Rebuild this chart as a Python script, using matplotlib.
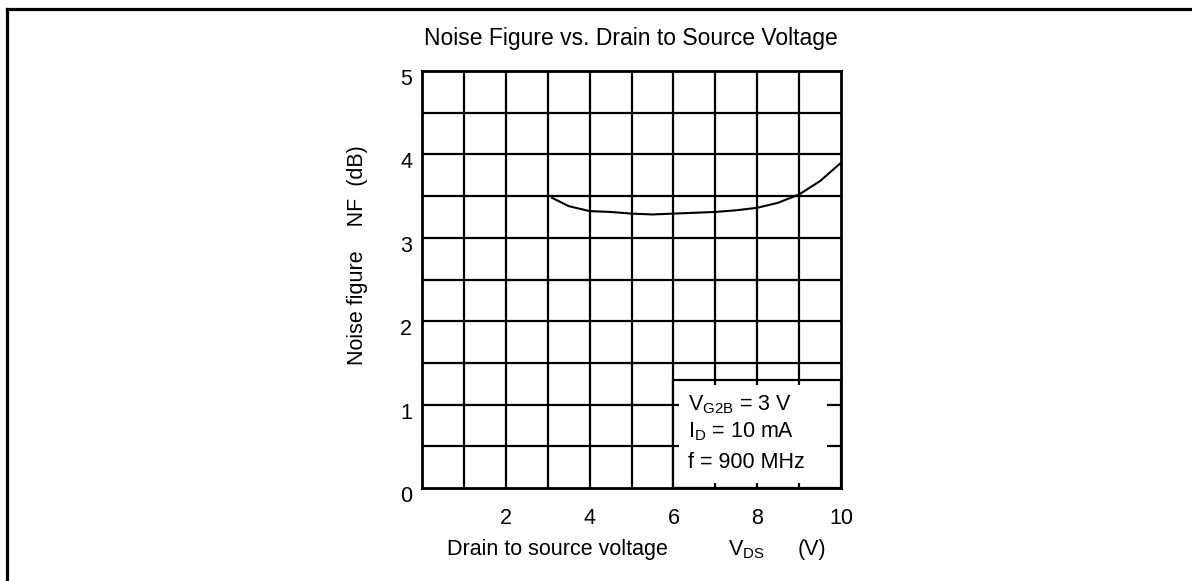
import matplotlib
matplotlib.use("Agg")
import matplotlib.pyplot as plt
from matplotlib.lines import Line2D
from matplotlib.patches import Rectangle
import matplotlib.transforms as mtrans
import numpy as np

plt.rcParams['font.family'] = ['Liberation Sans', 'DejaVu Sans']
plt.rcParams['mathtext.fontset'] = 'custom'
plt.rcParams['mathtext.rm'] = 'Liberation Sans'
plt.rcParams['mathtext.it'] = 'Liberation Sans'

# ---- data ----
vds = [3.1, 3.5, 4.0, 4.5, 5.0, 5.5, 6.0, 6.5, 7.0, 7.5, 8.0, 8.5, 9.0, 9.5, 10.0]
nf = [3.48, 3.38, 3.32, 3.31, 3.29, 3.28, 3.29, 3.30, 3.31, 3.33, 3.36, 3.42, 3.52, 3.68, 3.90]
x_ticks = [2, 4, 6, 8, 10]
y_ticks = [0, 1, 2, 3, 4, 5]
x_grid = list(range(0, 11))
y_grid = [0.5 * i for i in range(11)]
title = "Noise Figure vs. Drain to Source Voltage"
xlabel_parts = ["Drain to source voltage", "V$_{\\mathrm{DS}}$", "(V)"]
ylabel = "Noise figure    NF  (dB)"
cond_lines = ["V$_{\\mathrm{G2B}}$ = 3 V", "I$_{\\mathrm{D}}$ = 10 mA", "f = 900 MHz"]
box_x = (6.0, 10.0)
box_y = (0.0, 1.3)

W, H = 1192, 581
fig = plt.figure(figsize=(W / 100, H / 100), dpi=100)
fig.patch.set_facecolor('white')

def fx(px):
    return px / W

def fy(py):
    return 1 - py / H

ax = fig.add_axes([fx(422), fy(488), fx(841) - fx(422), fy(71) - fy(488)])
ax.set_xlim(0, 10)
ax.set_ylim(0, 5)

lw = 1.6
for x in x_grid[1:-1]:
    ax.axvline(x, color='black', lw=lw, zorder=1)
for y in y_grid[1:-1]:
    ax.axhline(y, color='black', lw=lw, zorder=1)

# conditions box (covers grid)
ax.add_patch(Rectangle((box_x[0], box_y[0]), box_x[1] - box_x[0], box_y[1] - box_y[0],
                       facecolor='white', edgecolor='black', lw=lw, zorder=2))
tx = 0.13
ty = 0.065
for x in x_grid:
    if box_x[0] < x < box_x[1]:
        ax.plot([x, x], [box_y[1], box_y[1] - ty], color='black', lw=lw, zorder=3, solid_capstyle='butt')
        ax.plot([x, x], [box_y[0], box_y[0] + ty], color='black', lw=lw, zorder=3, solid_capstyle='butt')
for y in y_grid:
    if box_y[0] < y < box_y[1]:
        ax.plot([box_x[0], box_x[0] + tx], [y, y], color='black', lw=lw, zorder=3, solid_capstyle='butt')
        ax.plot([box_x[1], box_x[1] - tx * 2.5], [y, y], color='black', lw=lw, zorder=3, solid_capstyle='butt')

ax.plot(vds, nf, color='black', lw=1.5, zorder=4)

for s in ax.spines.values():
    s.set_linewidth(2.0)
    s.set_zorder(5)

fs = 15.5
ax.set_xticks(x_ticks)
ax.set_yticks(y_ticks)
ax.tick_params(length=0, labelsize=fs, colors='black')
ax.tick_params(axis='x', pad=13)
ax.tick_params(axis='y', pad=7)
off = mtrans.ScaledTranslation(0, -6 / 100, fig.dpi_scale_trans)
for lab in ax.get_yticklabels():
    lab.set_transform(lab.get_transform() + off)
offx = mtrans.ScaledTranslation(0, -2 / 100, fig.dpi_scale_trans)
for lab in ax.get_xticklabels():
    lab.set_transform(lab.get_transform() + offx)

fig.text(fx(631), fy(38), title, ha='center', va='center', fontsize=16.5)
fig.text(fx(357), fy(255), ylabel, ha='center', va='center', rotation=90, fontsize=fs)
for t, px in zip(xlabel_parts, [447, 728, 798]):
    fig.text(fx(px), fy(550), t, ha='left', va='center', fontsize=fs)

cond_y = [405, 432, 462]
for t, yy in zip(cond_lines, cond_y):
    fig.text(fx(688), fy(yy), t, ha='left', va='center', fontsize=fs)

# outer frame (top and left)
fig.add_artist(Line2D([fx(7.5), 1], [fy(8.5), fy(8.5)], color='black', lw=2.3))
fig.add_artist(Line2D([fx(7.5), fx(7.5)], [0, fy(8.5)], color='black', lw=2.3))

fig.savefig("out.png", dpi=100, facecolor='white')
